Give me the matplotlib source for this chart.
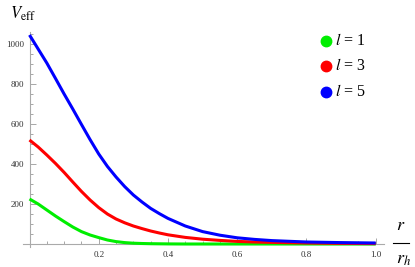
import matplotlib.pyplot as plt
from matplotlib.lines import Line2D
from matplotlib.ticker import MultipleLocator

plt.rcParams['font.family'] = 'Liberation Serif'
plt.rcParams['mathtext.fontset'] = 'stix'

r = [0, 0.025, 0.05, 0.075, 0.1, 0.125, 0.15, 0.175, 0.2, 0.225, 0.25, 0.275, 0.3,
     0.325, 0.35, 0.375, 0.4, 0.45, 0.5, 0.55, 0.6, 0.65, 0.7, 0.8, 0.9, 1.0]
v_l1 = [225, 200, 170, 140, 112, 85, 62, 45, 32, 20, 12, 7, 4,
        2.5, 1.5, 1, 0.5, 0, 0, 0, 0, 0, 0, 0, 0, 0]
v_l3 = [520, 485, 445, 403, 358, 310, 263, 220, 182, 150, 125, 106, 90,
        77, 65, 55, 46, 33, 24, 18, 13, 10, 8, 5, 3, 2]
v_l5 = [1045, 975, 905, 828, 750, 675, 598, 522, 450, 388, 335, 287, 245,
        210, 178, 152, 128, 90, 62, 44, 31, 23, 17, 10, 7, 5]
labels = ['$l$ = 1', '$l$ = 3', '$l$ = 5']
colors = ['#00ee00', '#ff0000', '#0000ff']

W, H = 415, 267
fig = plt.figure(figsize=(W / 100, H / 100), dpi=100)
# axes placed in pixels: x=0 -> 29.5px, x=1 -> 375.7px, y=0 -> 244px (0.2 px per unit)
x0, x1 = -0.02, 1.025
y0, y1 = -15, 1060
left = 29.5 + x0 * 346.2
width = (x1 - x0) * 346.2
bottom = H - (244 - y0 * 0.2)
height = (y1 - y0) * 0.2
ax = fig.add_axes([left / W, bottom / H, width / W, height / H])
ax.set_xlim(x0, x1)
ax.set_ylim(y0, y1)

for vals, c in zip([v_l1, v_l3, v_l5], colors):
    ax.plot(r, vals, color=c, lw=2.2, solid_joinstyle='round', solid_capstyle='butt', zorder=3)

for side in ['top', 'right']:
    ax.spines[side].set_visible(False)
ax.spines['left'].set_position(('data', 0))
ax.spines['bottom'].set_position(('data', 0))
for side in ['left', 'bottom']:
    ax.spines[side].set_color('#aaaaaa')
    ax.spines[side].set_linewidth(0.8)

ax.xaxis.set_minor_locator(MultipleLocator(0.05))
ax.yaxis.set_minor_locator(MultipleLocator(50))
ax.set_xticks([0.2, 0.4, 0.6, 0.8, 1.0])
ax.set_xticklabels(['0.2', '0.4', '0.6', '0.8', '1.0'])
ax.set_yticks([200, 400, 600, 800, 1000])
ax.set_yticklabels(['200', '400', '600', '800', '1000'])
ax.tick_params(which='both', direction='in', color='#999999', labelsize=6.5,
               labelcolor='#333333', width=0.6)
ax.tick_params(axis='x', pad=5)
ax.tick_params(axis='y', pad=4)
ax.tick_params(which='major', length=4)
ax.tick_params(which='minor', length=2.5)
ax.set_facecolor('none')

fig.text(10 / W, 1 - 14 / H, r'$V_{\rm eff}$', fontsize=12, ha='left', va='center')

# x label as a stacked fraction r / r_h
fig.text(401 / W, 1 - 225 / H, r'$r$', fontsize=13, ha='center', va='center')
fig.add_artist(Line2D([393 / W, 409 / W], [1 - 243 / H, 1 - 243 / H], color='black',
                      lw=0.8, transform=fig.transFigure))
fig.text(404 / W, 1 - 259 / H, r'$r_h$', fontsize=13, ha='center', va='center')

# legend drawn by hand
ys = [41, 66, 92]
for lab, c, yy in zip(labels, colors, ys):
    fig.add_artist(Line2D([326 / W], [1 - yy / H], marker='o', markersize=7.5,
                          color=c, transform=fig.transFigure))
    fig.text(335 / W, 1 - yy / H, lab, fontsize=11.5, ha='left', va='center')

fig.savefig('out.png', dpi=100)
